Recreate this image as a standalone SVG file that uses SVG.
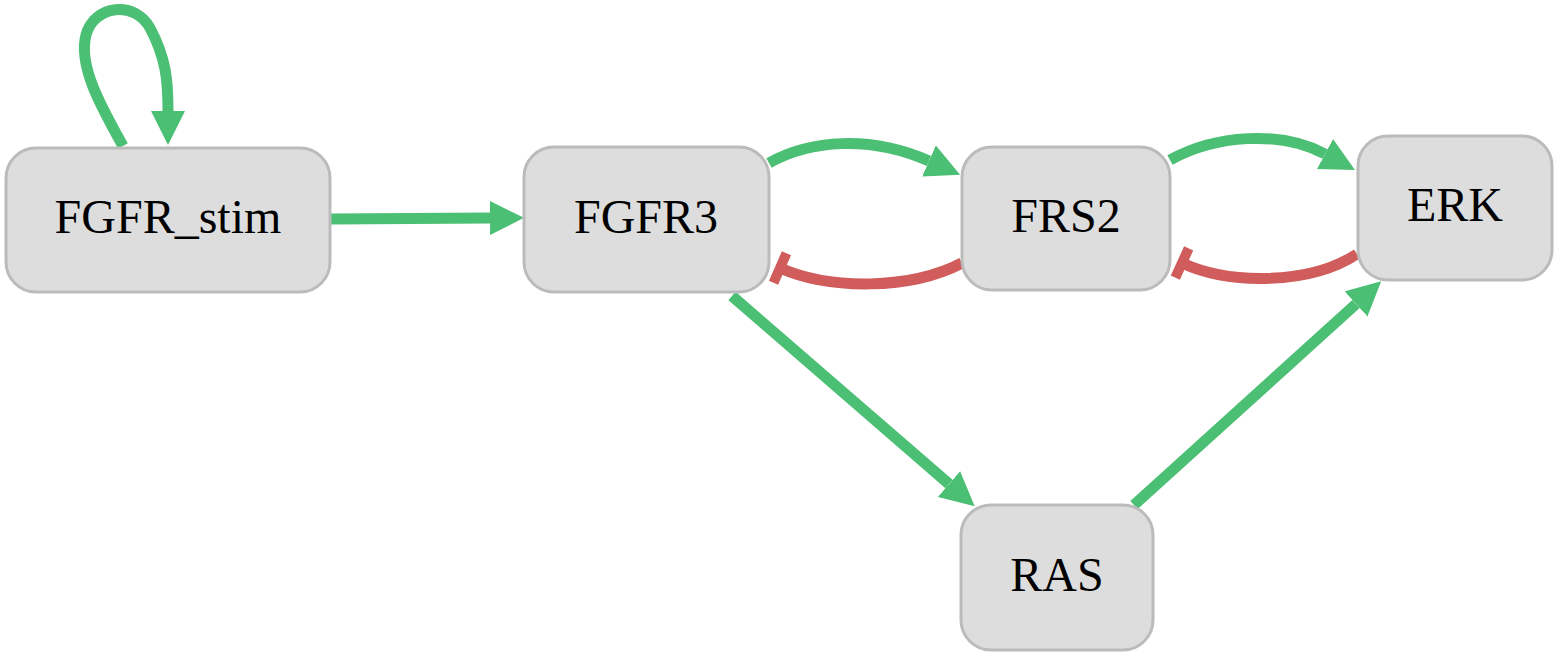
<svg xmlns="http://www.w3.org/2000/svg" width="1560" height="656" viewBox="0 0 1560 656">
<style>
.node rect{fill:#dddddd;stroke:#bbbbbb;stroke-width:3}
.node text{font-family:"Liberation Serif","Times New Roman",serif;font-size:48px;fill:#000;text-anchor:middle}
.act{fill:none;stroke:#4bbf73;stroke-width:11;marker-end:url(#arrow)}
.inh{fill:none;stroke:#d05c5c;stroke-width:11;marker-end:url(#bar)}
</style>
<defs>
<marker id="arrow" viewBox="0 0 34 34" refX="0" refY="17" markerWidth="34" markerHeight="34" markerUnits="userSpaceOnUse" orient="auto">
<path d="M0,0 L34,17 L0,34 z" fill="#4bbf73"/>
</marker>
<marker id="bar" viewBox="-6 -17 12 34" refX="0" refY="0" markerWidth="12" markerHeight="34" markerUnits="userSpaceOnUse" orient="auto">
<rect x="-5" y="-16" width="10" height="32" fill="#d05c5c"/>
</marker>
</defs>
<g id="connectors">
<path class="act" d="M331,219 L490,218"/>
<path class="act" d="M123,146 C 100,105 78,65 86,35 C 94,5 135,0 150,28 C 166,58 168,80 168,111"/>
<path class="act" d="M769,163 C 810,140 870,135 929,161"/>
<path class="inh" d="M962,263 C 910,290 830,290 780,268"/>
<path class="act" d="M1170,160 C 1215,135 1280,130 1325,154"/>
<path class="inh" d="M1357,254 C 1310,285 1230,285 1182,263"/>
<path class="act" d="M732,296 L949,484"/>
<path class="act" d="M1134,505 L1356,304"/>
</g>
<g id="FGFR_stim" class="node"><rect x="6" y="148" width="324" height="144" rx="30"/><text x="168" y="233">FGFR_stim</text></g>
<g id="FGFR3" class="node"><rect x="524" y="147" width="245" height="145" rx="30"/><text x="646" y="233">FGFR3</text></g>
<g id="FRS2" class="node"><rect x="962" y="147" width="208" height="143" rx="30"/><text x="1066" y="232">FRS2</text></g>
<g id="ERK" class="node"><rect x="1358" y="136" width="194" height="144" rx="30"/><text x="1455" y="221">ERK</text></g>
<g id="RAS" class="node"><rect x="961" y="505" width="192" height="145" rx="30"/><text x="1057" y="591">RAS</text></g>
</svg>
